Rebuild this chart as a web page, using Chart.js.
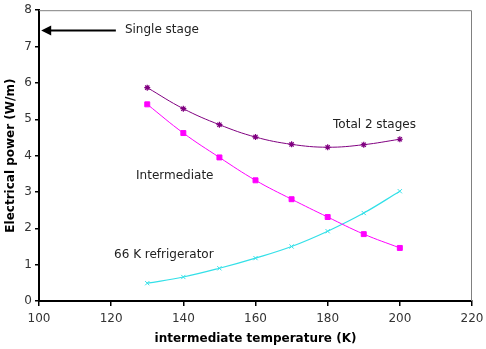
<!DOCTYPE html>
<html>
<head>
<meta charset="utf-8">
<script src="https://cdn.jsdelivr.net/npm/chart.js@4"></script>
<style>
  html, body { margin: 0; padding: 0; background: #fff; }
  #myCanvas { display: block; }
</style>
</head>
<body>
<canvas id="myCanvas" width="486" height="349"></canvas>
<script>
const temps = [130, 140, 150, 160, 170, 180, 190, 200];
const totalPower = [5.87, 5.29, 4.85, 4.51, 4.31, 4.23, 4.30, 4.45];
const intermediatePower = [5.41, 4.62, 3.95, 3.32, 2.80, 2.31, 1.84, 1.46];
const fridgePower = [0.49, 0.66, 0.90, 1.18, 1.50, 1.92, 2.42, 3.02];
const singleStage = 7.45;

const font = "'DejaVu Sans', Verdana, sans-serif";

function pts(ys) {
    return temps.map((t, i) => ({ x: t, y: ys[i] }));
}

// labels and arrow placed in data units
const labelNotes = [
    { text: "Single stage", x: 123.8, y: singleStage },
    { text: "Total 2 stages", x: 181.5, y: 4.84 },
    { text: "Intermediate", x: 126.9, y: 3.43 },
    { text: "66 K refrigerator", x: 120.8, y: 1.26 }
];

const notesPlugin = {
    id: "notes",
    beforeDatasetsDraw(chart) {
        const c = chart.ctx, a = chart.chartArea;
        c.save();
        c.strokeStyle = "#808080";
        c.lineWidth = 1;
        c.beginPath();
        c.moveTo(a.left, a.top + 0.5);
        c.lineTo(a.right - 0.5, a.top + 0.5);
        c.lineTo(a.right - 0.5, a.bottom);
        c.stroke();
        c.restore();
    },
    afterDraw(chart) {
        const c = chart.ctx;
        const xs = chart.scales.x, ys = chart.scales.y;
        c.save();
        c.fillStyle = "#222";
        c.font = "12px " + font;
        c.textBaseline = "middle";
        c.textAlign = "left";
        labelNotes.forEach(n => {
            c.fillText(n.text, xs.getPixelForValue(n.x), ys.getPixelForValue(n.y));
        });
        // arrow for single stage
        const yy = Math.round(ys.getPixelForValue(singleStage)) + 0.5;
        const x1 = xs.getPixelForValue(121.3), x0 = xs.getPixelForValue(100.6);
        c.strokeStyle = "#000";
        c.lineWidth = 2;
        c.beginPath();
        c.moveTo(x1, yy);
        c.lineTo(x0 + 8, yy);
        c.stroke();
        c.fillStyle = "#000";
        c.beginPath();
        c.moveTo(x0, yy);
        c.lineTo(x0 + 10, yy - 5);
        c.lineTo(x0 + 10, yy + 5);
        c.closePath();
        c.fill();
        c.restore();
    }
};

const chart = new Chart(document.getElementById("myCanvas").getContext("2d"), {
    type: "line",
    data: {
        datasets: [
            {
                label: "Total 2 stages",
                data: pts(totalPower),
                borderColor: "#800080",
                backgroundColor: "#800080",
                borderWidth: 1,
                pointStyle: "star",
                pointRadius: 3,
                pointBorderWidth: 1.2,
                tension: 0.4
            },
            {
                label: "Intermediate",
                data: pts(intermediatePower),
                borderColor: "#ff00ff",
                backgroundColor: "#ff00ff",
                borderWidth: 1,
                pointStyle: "rect",
                pointRadius: 3.5,
                tension: 0.4
            },
            {
                label: "66 K refrigerator",
                data: pts(fridgePower),
                borderColor: "#33e0e8",
                backgroundColor: "#33e0e8",
                borderWidth: 1.2,
                pointStyle: "crossRot",
                pointRadius: 3,
                pointBorderWidth: 1,
                tension: 0.4
            }
        ]
    },
    options: {
        responsive: false,
        animation: false,
        layout: { padding: { top: 10, left: 4, right: 14, bottom: 0 } },
        plugins: {
            legend: { display: false },
            tooltip: { enabled: false }
        },
        scales: {
            x: {
                type: "linear",
                min: 100,
                max: 220,
                afterFit(s) { s.height = 48; s.paddingLeft = 0; s.paddingRight = 0; },
                ticks: { stepSize: 20, color: "#333", font: { family: font, size: 12 }, padding: 6, maxRotation: 0 },
                grid: { drawOnChartArea: false, drawTicks: true, tickLength: 5, color: "#000", lineWidth: 1.5 },
                border: { color: "#000", width: 2 },
                title: {
                    display: true,
                    text: "intermediate temperature (K)",
                    color: "#000",
                    font: { family: font, size: 12, weight: "bold" },
                    padding: { top: 0, bottom: 3 }
                }
            },
            y: {
                min: 0,
                max: 8,
                afterFit(s) { s.width = 35; },
                ticks: { stepSize: 1, color: "#333", font: { family: font, size: 12 }, padding: 3 },
                grid: { drawOnChartArea: false, drawTicks: true, tickLength: 4, color: "#000", lineWidth: 1.5 },
                border: { color: "#000", width: 2 },
                title: {
                    display: true,
                    text: "Electrical power (W/m)",
                    color: "#000",
                    font: { family: font, size: 12, weight: "bold" },
                    padding: { top: 0, bottom: 2 }
                }
            }
        }
    },
    plugins: [notesPlugin]
});
</script>
</body>
</html>
